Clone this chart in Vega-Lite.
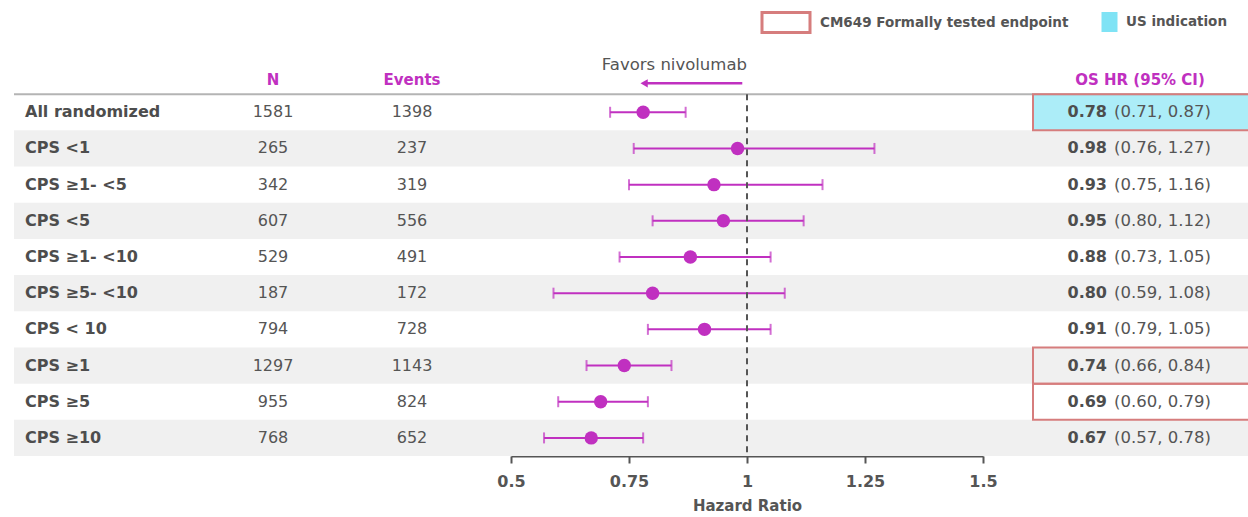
{
  "$schema": "https://vega.github.io/schema/vega-lite/v6.json",
  "padding": {"left": 13, "top": 11, "right": 0, "bottom": 3},
  "spacing": 0,
  "bounds": "flush",
  "config": {"font": "DejaVu Sans", "view": {"stroke": null}},
  "datasets": {
    "rows": [
      {"row": "All randomized", "n": 1581, "events": 1398, "hr": 0.78, "lo": 0.71, "hi": 0.87, "ci": "(0.71, 0.87)", "formal": true, "us": true},
      {"row": "CPS <1", "n": 265, "events": 237, "hr": 0.98, "lo": 0.76, "hi": 1.27, "ci": "(0.76, 1.27)", "formal": false, "us": false},
      {"row": "CPS ≥1- <5", "n": 342, "events": 319, "hr": 0.93, "lo": 0.75, "hi": 1.16, "ci": "(0.75, 1.16)", "formal": false, "us": false},
      {"row": "CPS <5", "n": 607, "events": 556, "hr": 0.95, "lo": 0.80, "hi": 1.12, "ci": "(0.80, 1.12)", "formal": false, "us": false},
      {"row": "CPS ≥1- <10", "n": 529, "events": 491, "hr": 0.88, "lo": 0.73, "hi": 1.05, "ci": "(0.73, 1.05)", "formal": false, "us": false},
      {"row": "CPS ≥5- <10", "n": 187, "events": 172, "hr": 0.80, "lo": 0.59, "hi": 1.08, "ci": "(0.59, 1.08)", "formal": false, "us": false},
      {"row": "CPS < 10", "n": 794, "events": 728, "hr": 0.91, "lo": 0.79, "hi": 1.05, "ci": "(0.79, 1.05)", "formal": false, "us": false},
      {"row": "CPS ≥1", "n": 1297, "events": 1143, "hr": 0.74, "lo": 0.66, "hi": 0.84, "ci": "(0.66, 0.84)", "formal": true, "us": false},
      {"row": "CPS ≥5", "n": 955, "events": 824, "hr": 0.69, "lo": 0.60, "hi": 0.79, "ci": "(0.60, 0.79)", "formal": true, "us": false},
      {"row": "CPS ≥10", "n": 768, "events": 652, "hr": 0.67, "lo": 0.57, "hi": 0.78, "ci": "(0.57, 0.78)", "formal": false, "us": false}
    ]
  },
  "hconcat": [
    {
      "width": 187, "height": 398,
      "data": {"name": "rows"},
      "encoding": {"y": {"field": "row", "type": "nominal", "axis": null, "scale": {"domain": ["hdr", "All randomized", "CPS <1", "CPS ≥1- <5", "CPS <5", "CPS ≥1- <10", "CPS ≥5- <10", "CPS < 10", "CPS ≥1", "CPS ≥5", "CPS ≥10"], "paddingInner": 0, "paddingOuter": 0}}},
      "layer": [
        {"transform": [{"window": [{"op": "row_number", "as": "idx"}]}, {"filter": "datum.idx % 2 == 0"}], "mark": {"type": "rect", "color": "#f0f0f0"}, "encoding": {}},
        {"data": {"values": [{}]}, "mark": {"type": "rule", "color": "#b4b4b4", "strokeWidth": 2}, "encoding": {"y": {"datum": "All randomized", "bandPosition": 0}}},
        {"mark": {"type": "text", "align": "left", "dx": 11, "fontSize": 16, "fontWeight": "bold", "color": "#4d4d4d"}, "encoding": {"x": {"value": 0}, "text": {"field": "row"}}}
      ]
    },
    {
      "width": 144, "height": 398,
      "data": {"name": "rows"},
      "encoding": {"y": {"field": "row", "type": "nominal", "axis": null, "scale": {"domain": ["hdr", "All randomized", "CPS <1", "CPS ≥1- <5", "CPS <5", "CPS ≥1- <10", "CPS ≥5- <10", "CPS < 10", "CPS ≥1", "CPS ≥5", "CPS ≥10"], "paddingInner": 0, "paddingOuter": 0}}},
      "layer": [
        {"transform": [{"window": [{"op": "row_number", "as": "idx"}]}, {"filter": "datum.idx % 2 == 0"}], "mark": {"type": "rect", "color": "#f0f0f0"}, "encoding": {}},
        {"data": {"values": [{}]}, "mark": {"type": "rule", "color": "#b4b4b4", "strokeWidth": 2}, "encoding": {"y": {"datum": "All randomized", "bandPosition": 0}}},
        {"data": {"values": [{"h": "N"}]}, "mark": {"type": "text", "fontSize": 15, "fontWeight": "bold", "color": "#c030c0", "dy": 4}, "encoding": {"y": {"datum": "hdr"}, "text": {"field": "h"}}},
        {"mark": {"type": "text", "fontSize": 16, "color": "#555555"}, "encoding": {"text": {"field": "n", "type": "nominal"}}}
      ]
    },
    {
      "width": 134, "height": 398,
      "data": {"name": "rows"},
      "encoding": {"y": {"field": "row", "type": "nominal", "axis": null, "scale": {"domain": ["hdr", "All randomized", "CPS <1", "CPS ≥1- <5", "CPS <5", "CPS ≥1- <10", "CPS ≥5- <10", "CPS < 10", "CPS ≥1", "CPS ≥5", "CPS ≥10"], "paddingInner": 0, "paddingOuter": 0}}},
      "layer": [
        {"transform": [{"window": [{"op": "row_number", "as": "idx"}]}, {"filter": "datum.idx % 2 == 0"}], "mark": {"type": "rect", "color": "#f0f0f0"}, "encoding": {}},
        {"data": {"values": [{}]}, "mark": {"type": "rule", "color": "#b4b4b4", "strokeWidth": 2}, "encoding": {"y": {"datum": "All randomized", "bandPosition": 0}}},
        {"data": {"values": [{"h": "Events"}]}, "mark": {"type": "text", "fontSize": 15, "fontWeight": "bold", "color": "#c030c0", "dy": 4}, "encoding": {"y": {"datum": "hdr"}, "text": {"field": "h"}}},
        {"mark": {"type": "text", "fontSize": 16, "color": "#555555"}, "encoding": {"text": {"field": "events", "type": "nominal"}}}
      ]
    },
    {
      "width": 32, "height": 398,
      "data": {"name": "rows"},
      "encoding": {"y": {"field": "row", "type": "nominal", "axis": null, "scale": {"domain": ["hdr", "All randomized", "CPS <1", "CPS ≥1- <5", "CPS <5", "CPS ≥1- <10", "CPS ≥5- <10", "CPS < 10", "CPS ≥1", "CPS ≥5", "CPS ≥10"], "paddingInner": 0, "paddingOuter": 0}}},
      "layer": [
        {"transform": [{"window": [{"op": "row_number", "as": "idx"}]}, {"filter": "datum.idx % 2 == 0"}], "mark": {"type": "rect", "color": "#f0f0f0"}, "encoding": {}},
        {"data": {"values": [{}]}, "mark": {"type": "rule", "color": "#b4b4b4", "strokeWidth": 2}, "encoding": {"y": {"datum": "All randomized", "bandPosition": 0}}}
      ]
    },
    {
      "width": 472, "height": 398,
      "data": {"name": "rows"},
      "encoding": {"y": {"field": "row", "type": "nominal", "axis": null, "scale": {"domain": ["hdr", "All randomized", "CPS <1", "CPS ≥1- <5", "CPS <5", "CPS ≥1- <10", "CPS ≥5- <10", "CPS < 10", "CPS ≥1", "CPS ≥5", "CPS ≥10"], "paddingInner": 0, "paddingOuter": 0}}},
      "layer": [
        {"transform": [{"window": [{"op": "row_number", "as": "idx"}]}, {"filter": "datum.idx % 2 == 0"}], "mark": {"type": "rect", "color": "#f0f0f0"}, "encoding": {}},
        {"data": {"values": [{}]}, "mark": {"type": "rule", "color": "#b4b4b4", "strokeWidth": 2}, "encoding": {"y": {"datum": "All randomized", "bandPosition": 0}}},
        {"mark": {"type": "rule", "color": "#c030c0", "strokeWidth": 2}, "encoding": {
          "x": {"field": "lo", "type": "quantitative", "scale": {"domain": [0.5, 1.5], "nice": false, "zero": false},
                "axis": {"values": [0.5, 0.75, 1, 1.25, 1.5], "format": ".3~g", "title": "Hazard Ratio", "grid": false, "domainColor": "#555555", "domainWidth": 2, "tickColor": "#555555", "tickWidth": 2, "tickSize": 7, "labelFontSize": 16, "labelFontWeight": "bold", "labelColor": "#555555", "labelPadding": 10, "labelFlush": false, "titleFontSize": 15, "titleFontWeight": "bold", "titleColor": "#555555", "titlePadding": 9}},
          "x2": {"field": "hi"}}},
        {"data": {"values": [{}]}, "mark": {"type": "rule", "color": "#555555", "strokeWidth": 2, "strokeDash": [6, 5]}, "encoding": {"x": {"datum": 1}, "y": {"datum": "All randomized", "bandPosition": 0}, "y2": {"value": "height"}}},
        {"mark": {"type": "tick", "color": "#c030c0", "thickness": 2, "size": 11, "orient": "vertical"}, "encoding": {"x": {"field": "lo", "type": "quantitative"}}},
        {"mark": {"type": "tick", "color": "#c030c0", "thickness": 2, "size": 11, "orient": "vertical"}, "encoding": {"x": {"field": "hi", "type": "quantitative"}}},
        {"mark": {"type": "circle", "color": "#c030c0", "size": 180, "opacity": 1}, "encoding": {"x": {"field": "hr", "type": "quantitative"}}},
        {"data": {"values": [{"t": "Favors nivolumab"}]}, "mark": {"type": "text", "align": "right", "fontSize": 16.5, "color": "#555555", "dy": -11}, "encoding": {"x": {"datum": 1}, "y": {"datum": "hdr"}, "text": {"field": "t"}}},
        {"data": {"values": [{}]}, "mark": {"type": "rule", "color": "#c030c0", "strokeWidth": 2.5}, "encoding": {"x": {"datum": 0.99}, "x2": {"datum": 0.785}, "y": {"datum": "hdr", "bandPosition": 0.7}}},
        {"data": {"values": [{}]}, "mark": {"type": "point", "shape": "triangle-left", "filled": true, "color": "#c030c0", "size": 70, "opacity": 1}, "encoding": {"x": {"datum": 0.782}, "y": {"datum": "hdr", "bandPosition": 0.7}}}
      ]
    },
    {
      "width": 50, "height": 398,
      "data": {"name": "rows"},
      "encoding": {"y": {"field": "row", "type": "nominal", "axis": null, "scale": {"domain": ["hdr", "All randomized", "CPS <1", "CPS ≥1- <5", "CPS <5", "CPS ≥1- <10", "CPS ≥5- <10", "CPS < 10", "CPS ≥1", "CPS ≥5", "CPS ≥10"], "paddingInner": 0, "paddingOuter": 0}}},
      "layer": [
        {"transform": [{"window": [{"op": "row_number", "as": "idx"}]}, {"filter": "datum.idx % 2 == 0"}], "mark": {"type": "rect", "color": "#f0f0f0"}, "encoding": {}},
        {"data": {"values": [{}]}, "mark": {"type": "rule", "color": "#b4b4b4", "strokeWidth": 2}, "encoding": {"y": {"datum": "All randomized", "bandPosition": 0}}}
      ]
    },
    {
      "width": 216, "height": 398,
      "data": {"name": "rows"},
      "encoding": {"y": {"field": "row", "type": "nominal", "axis": null, "scale": {"domain": ["hdr", "All randomized", "CPS <1", "CPS ≥1- <5", "CPS <5", "CPS ≥1- <10", "CPS ≥5- <10", "CPS < 10", "CPS ≥1", "CPS ≥5", "CPS ≥10"], "paddingInner": 0, "paddingOuter": 0}}},
      "layer": [
        {"transform": [{"window": [{"op": "row_number", "as": "idx"}]}, {"filter": "datum.idx % 2 == 0"}], "mark": {"type": "rect", "color": "#f0f0f0"}, "encoding": {}},
        {"data": {"values": [{}]}, "mark": {"type": "rule", "color": "#b4b4b4", "strokeWidth": 2}, "encoding": {"y": {"datum": "All randomized", "bandPosition": 0}}},
        {"transform": [{"filter": "datum.us"}], "mark": {"type": "rect", "fillOpacity": 0.65}, "encoding": {
          "fill": {"datum": "US indication", "type": "nominal", "scale": {"range": ["#7fe3f5"]},
                   "legend": {"orient": "none", "legendX": 1084.5, "legendY": -47, "title": null, "padding": 0, "symbolType": "M-0.8,-1H0.8V1H-0.8Z", "symbolSize": 400, "symbolOpacity": 1, "labelOffset": 5.5, "labelLimit": 400, "labelFontSize": 13.5, "labelFontWeight": "bold", "labelColor": "#555555"}}}},
        {"transform": [{"filter": "datum.formal"}], "mark": {"type": "rect", "filled": false, "strokeWidth": 2}, "encoding": {
          "stroke": {"datum": "CM649 Formally tested endpoint", "type": "nominal", "scale": {"range": ["#d67d7d"]},
                     "legend": {"orient": "none", "legendX": 760.5, "legendY": -47, "title": null, "padding": 0, "symbolType": "M-2.4,-1H2.4V1H-2.4Z", "symbolSize": 400, "symbolStrokeWidth": 3, "labelOffset": 22.5, "labelLimit": 400, "labelFontSize": 13.5, "labelFontWeight": "bold", "labelColor": "#555555"}}}},
        {"data": {"values": [{"h": "OS HR (95% CI)"}]}, "mark": {"type": "text", "fontSize": 15, "fontWeight": "bold", "color": "#c030c0", "dy": 4, "dx": -1}, "encoding": {"y": {"datum": "hdr"}, "text": {"field": "h"}}},
        {"mark": {"type": "text", "align": "right", "dx": -34, "fontSize": 16, "fontWeight": "bold", "color": "#4d4d4d"}, "encoding": {"text": {"field": "hr", "type": "quantitative", "format": ".2f"}}},
        {"mark": {"type": "text", "align": "left", "dx": -27, "fontSize": 16.5, "color": "#555555"}, "encoding": {"text": {"field": "ci"}}}
      ]
    }
  ]
}
